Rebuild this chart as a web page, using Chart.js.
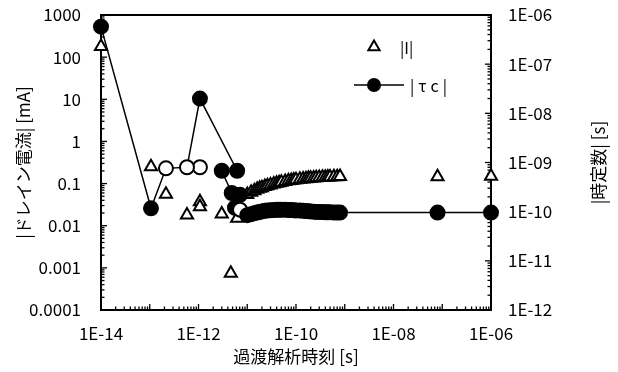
<!DOCTYPE html>
<html><head><meta charset="utf-8">
<script src="https://cdn.jsdelivr.net/npm/chart.js@4.4.1/dist/chart.umd.min.js"></script>
<style>html,body{margin:0;padding:0;background:#fff}#wrap{width:618px;height:372px;position:relative}</style>
</head><body><div id="wrap"><canvas id="c"></canvas></div>
<script>
const FONT = "'Noto Sans CJK JP', 'Noto Sans', sans-serif";

// |I| drain current [mA] (open triangles, left axis)
const currentTime = [1e-14, 1.06e-13, 2.15e-13, 5.8e-13, 1.07e-12, 1.07e-12, 3.0e-12, 4.6e-12, 6.2e-12,
  1e-11, 1.2e-11, 1.4e-11, 1.6e-11, 1.8e-11, 2e-11, 2.3e-11, 2.6e-11, 3e-11, 3.5e-11, 4e-11, 4.5e-11, 5e-11,
  6e-11, 7e-11, 8e-11, 9e-11, 1e-10, 1.2e-10, 1.4e-10, 1.6e-10, 1.8e-10, 2e-10, 2.3e-10, 2.6e-10, 3e-10,
  3.5e-10, 4e-10, 4.5e-10, 5e-10, 6e-10, 7e-10, 8e-10, 8e-8, 1e-6];
const currentMa = [180, 0.25, 0.056, 0.018, 0.037, 0.028, 0.019, 0.00074, 0.015,
  0.055, 0.062, 0.068, 0.073, 0.077, 0.080, 0.085, 0.089, 0.093, 0.098, 0.102, 0.105, 0.108,
  0.112, 0.116, 0.119, 0.121, 0.123, 0.126, 0.129, 0.131, 0.133, 0.134, 0.136, 0.138, 0.140,
  0.141, 0.142, 0.143, 0.144, 0.145, 0.146, 0.147, 0.146, 0.15];

// |tau c| time constant [s] (circles joined by a line, right axis); sign -1 = negative value (open marker)
const tauTime = [1e-14, 1.06e-13, 2.15e-13, 5.8e-13, 1.07e-12, 6.2e-12, 3.0e-12, 4.8e-12, 7.1e-12, 5.6e-12, 7.1e-12,
  1e-11, 1.2e-11, 1.4e-11, 1.6e-11, 1.8e-11, 2e-11, 2.3e-11, 2.6e-11, 3e-11, 3.5e-11, 4e-11, 4.5e-11, 5e-11,
  6e-11, 7e-11, 8e-11, 9e-11, 1e-10, 1.2e-10, 1.4e-10, 1.6e-10, 1.8e-10, 2e-10, 2.3e-10, 2.6e-10, 3e-10,
  3.5e-10, 4e-10, 4.5e-10, 5e-10, 6e-10, 7e-10, 8e-10, 8e-8, 1e-6];
const tauSec = [5.8e-7, 1.17e-10, 7.6e-10, 8.0e-10, 2.0e-8, 6.8e-10, 6.8e-10, 2.4e-10, 2.2e-10, 1.2e-10, 1.1e-10,
  8.5e-11, 8.9e-11, 9.3e-11, 9.6e-11, 9.9e-11, 1.01e-10, 1.04e-10, 1.06e-10, 1.07e-10, 1.08e-10, 1.09e-10, 1.09e-10, 1.09e-10,
  1.09e-10, 1.08e-10, 1.08e-10, 1.07e-10, 1.06e-10, 1.05e-10, 1.04e-10, 1.03e-10, 1.02e-10, 1.01e-10, 1.0e-10, 9.9e-11, 9.9e-11,
  9.8e-11, 9.7e-11, 9.7e-11, 9.7e-11, 9.6e-11, 9.6e-11, 9.6e-11, 9.6e-11, 9.6e-11];
const tauSign = [1, 1, -1, -1, 1, 1, 1, 1, 1, 1, -1,
  1, 1, 1, 1, 1, 1, 1, 1, 1, 1, 1, 1, 1,
  1, 1, 1, 1, 1, 1, 1, 1, 1, 1, 1, 1, 1,
  1, 1, 1, 1, 1, 1, 1, 1, 1];
// stray tau point not joined by the line
const tauLooseTime = [1.07e-12];
const tauLooseSec = [8.0e-10];
const tauLooseSign = [-1];

const xTicks = [1e-14, 1e-12, 1e-10, 1e-8, 1e-6];
const xTickLabels = ['1E-14', '1E-12', '1E-10', '1E-08', '1E-06'];
const yTicks = [1e-4, 1e-3, 1e-2, 1e-1, 1, 10, 100, 1000];
const yTickLabels = ['0.0001', '0.001', '0.01', '0.1', '1', '10', '100', '1000'];
const y2Ticks = [1e-12, 1e-11, 1e-10, 1e-9, 1e-8, 1e-7, 1e-6];
const y2TickLabels = ['1E-12', '1E-11', '1E-10', '1E-09', '1E-08', '1E-07', '1E-06'];
const xTitle = '過渡解析時刻 [s]';
const yTitle = '|ドレイン電流| [mA]';
const y2Title = '|時定数| [s]';
const legendLabels = ['|I|', '|τc|'];

const pts = (xs, ys) => xs.map((x, i) => ({x: x, y: ys[i]}));
const fillFor = s => s < 0 ? '#ffffff' : '#000000';
const TICK_FONT = {family: FONT, size: 17};

const decorPlugin = {
  id: 'decor',
  beforeDatasetsDraw(chart) {
    const ctx = chart.ctx, a = chart.chartArea;
    ctx.save();
    ctx.strokeStyle = '#000'; ctx.lineWidth = 1.3;
    const minor = (scale, dir) => {
      const lo = Math.round(Math.log10(scale.min)), hi = Math.round(Math.log10(scale.max));
      for (let e = lo; e < hi; e++) {
        for (let m = 1; m <= 9; m++) {
          const p = scale.getPixelForValue(m * Math.pow(10, e));
          const len = m === 1 ? 6 : 3.5;
          ctx.beginPath();
          if (dir === 'b') { ctx.moveTo(p, a.bottom); ctx.lineTo(p, a.bottom - len); }
          if (dir === 'l') { ctx.moveTo(a.left, p); ctx.lineTo(a.left + len, p); }
          if (dir === 'r') { ctx.moveTo(a.right, p); ctx.lineTo(a.right - len, p); }
          ctx.stroke();
        }
      }
    };
    minor(chart.scales.x, 'b');
    minor(chart.scales.y, 'l');
    minor(chart.scales.y2, 'r');
    ctx.lineWidth = 2;
    ctx.strokeRect(a.left, a.top, a.right - a.left, a.bottom - a.top);
    ctx.restore();
  },
  afterDraw(chart) {
    const ctx = chart.ctx, a = chart.chartArea;
    ctx.save();
    ctx.fillStyle = '#000';
    ctx.font = '17px ' + FONT;
    ctx.textAlign = 'center'; ctx.textBaseline = 'middle';
    ctx.fillText(xTitle, (a.left + a.right) / 2, 357);
    ctx.save(); ctx.translate(24, (a.top + a.bottom) / 2); ctx.rotate(-Math.PI / 2);
    ctx.fillText(yTitle, 0, 0); ctx.restore();
    ctx.save(); ctx.translate(599, (a.top + a.bottom) / 2); ctx.rotate(-Math.PI / 2);
    ctx.fillText(y2Title, 0, 0); ctx.restore();
    // legend
    ctx.textAlign = 'left';
    ctx.font = '16px ' + FONT;
    ctx.lineWidth = 2; ctx.strokeStyle = '#000';
    const mx = 374, ty = 47, r = 6.5;
    ctx.beginPath();
    ctx.moveTo(mx, ty - r); ctx.lineTo(mx + r * 0.866, ty + r * 0.5); ctx.lineTo(mx - r * 0.866, ty + r * 0.5); ctx.closePath();
    ctx.fillStyle = '#fff'; ctx.fill(); ctx.stroke();
    ctx.fillStyle = '#000';
    ctx.fillText(legendLabels[0], 400, 48);
    ctx.lineWidth = 1.5;
    ctx.beginPath(); ctx.moveTo(354, 85); ctx.lineTo(404, 85); ctx.stroke();
    ctx.beginPath(); ctx.arc(mx, 85, 7, 0, Math.PI * 2); ctx.fill();
    if ('letterSpacing' in ctx) ctx.letterSpacing = '4px';
    ctx.fillText(legendLabels[1], 410, 86);
    ctx.restore();
  }
};

const noPad = s => { s.paddingTop = 0; s.paddingBottom = 0; };

new Chart(document.getElementById('c'), {
  type: 'scatter',
  data: {
    datasets: [
      {
        label: legendLabels[0], yAxisID: 'y', order: 3, clip: false,
        data: pts(currentTime, currentMa),
        pointStyle: 'triangle', pointRadius: 7, pointBackgroundColor: '#fff',
        pointBorderColor: '#000', pointBorderWidth: 2, showLine: false
      },
      {
        label: legendLabels[1], yAxisID: 'y2', order: 1, clip: false,
        data: pts(tauTime, tauSec),
        showLine: true, borderColor: '#000', borderWidth: 1.5,
        pointStyle: 'circle', pointRadius: 7,
        pointBackgroundColor: tauSign.map(fillFor),
        pointBorderColor: '#000', pointBorderWidth: 2
      },
      {
        label: 'loose', yAxisID: 'y2', order: 2, clip: false,
        data: pts(tauLooseTime, tauLooseSec),
        showLine: false, pointStyle: 'circle', pointRadius: 7,
        pointBackgroundColor: tauLooseSign.map(fillFor),
        pointBorderColor: '#000', pointBorderWidth: 2
      }
    ]
  },
  options: {
    responsive: true, maintainAspectRatio: false, animation: false,
    layout: {padding: {top: 15, left: 0, right: 0, bottom: 0}},
    plugins: {legend: {display: false}, tooltip: {enabled: false}},
    scales: {
      x: {
        type: 'logarithmic', position: 'bottom', min: 1e-14, max: 1e-6,
        grid: {display: false, drawTicks: false}, border: {display: false},
        ticks: {color: '#000', font: TICK_FONT, padding: 13, maxRotation: 0, autoSkip: false,
          callback: (v, i) => xTickLabels[i]},
        afterBuildTicks: s => { s.ticks = xTicks.map(v => ({value: v})); },
        afterFit: s => { s.height = 62; s.paddingLeft = 0; s.paddingRight = 0; }
      },
      y: {
        type: 'logarithmic', position: 'left', min: 1e-4, max: 1e3,
        grid: {display: false, drawTicks: false}, border: {display: false},
        ticks: {color: '#000', font: TICK_FONT, padding: 20, autoSkip: false,
          callback: (v, i) => yTickLabels[i]},
        afterBuildTicks: s => { s.ticks = yTicks.map(v => ({value: v})); },
        afterFit: s => { s.width = 101; noPad(s); }
      },
      y2: {
        type: 'logarithmic', position: 'right', min: 1e-12, max: 1e-6,
        grid: {display: false, drawTicks: false}, border: {display: false},
        ticks: {color: '#000', font: TICK_FONT, padding: 17, autoSkip: false,
          callback: (v, i) => y2TickLabels[i]},
        afterBuildTicks: s => { s.ticks = y2Ticks.map(v => ({value: v})); },
        afterFit: s => { s.width = 127; noPad(s); }
      }
    }
  },
  plugins: [decorPlugin]
});
</script>
</body></html>
